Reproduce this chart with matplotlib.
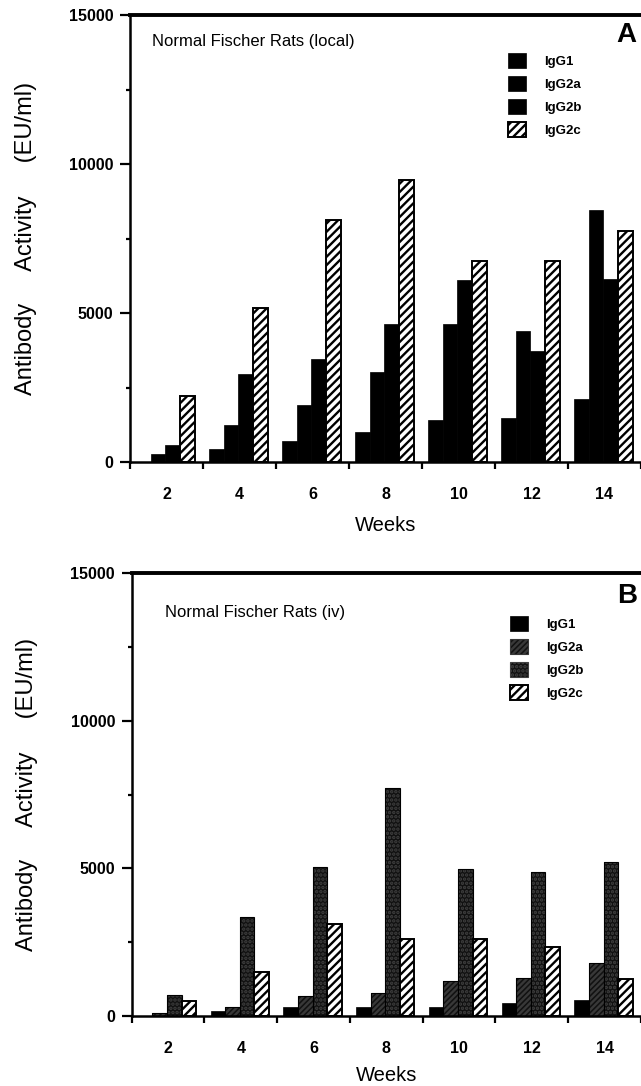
import numpy as np
import matplotlib
matplotlib.use("Agg")
import matplotlib.pyplot as plt
from matplotlib.patches import Patch

plt.rcParams['font.family'] = ['Liberation Sans', 'DejaVu Sans']
plt.rcParams['hatch.linewidth'] = 1.7

# ---------------- data ----------------
weeks = [2, 4, 6, 8, 10, 12, 14]
week_labels = ['2', '4', '6', '8', '10', '12', '14']
series = ['IgG1', 'IgG2a', 'IgG2b', 'IgG2c']

# Panel A: Normal Fischer Rats (local)
a_igg1 = [0, 445, 690, 1000, 1420, 1480, 2110]
a_igg2a = [255, 1255, 1910, 3030, 4630, 4380, 8440]
a_igg2b = [560, 2940, 3450, 4630, 6110, 3740, 6140]
a_igg2c = [2210, 5170, 8110, 9470, 6740, 6740, 7740]

# Panel B: Normal Fischer Rats (iv)
b_igg1 = [0, 180, 316, 316, 316, 430, 540]
b_igg2a = [113, 316, 680, 790, 1200, 1275, 1800]
b_igg2b = [710, 3365, 5060, 7710, 4980, 4870, 5200]
b_igg2c = [520, 1500, 3120, 2600, 2600, 2350, 1240]

title_a = 'Normal Fischer Rats (local)'
title_b = 'Normal Fischer Rats (iv)'
ylabel = 'Antibody     Activity     (EU/ml)'
xlabel = 'Weeks'

# ---------------- styles ----------------
offsets = [-0.63, -0.23, 0.17, 0.57]
bar_w = 0.4

solid = dict(facecolor='black', edgecolor='black', linewidth=0.5)
hatched = dict(facecolor='white', edgecolor='black', hatch='////', linewidth=1.4)
dark_hatch = dict(facecolor='#111111', edgecolor='#383838', hatch='//////', linewidth=0)
dark_dots = dict(facecolor='#111111', edgecolor='#404040', hatch='....', linewidth=0)

styles_a = [solid, solid, solid, hatched]
styles_b = [solid, dark_hatch, dark_dots, hatched]

fig = plt.figure(figsize=(6.41, 10.86), dpi=100)
W, H = 641.0, 1086.0


def panel(rect, data, styles, title, title_pos, letter, letter_pos, leg_pos,
          xlabelpad):
    ax = fig.add_axes(rect)
    x = np.array(weeks, dtype=float)
    for vals, st, off in zip(data, styles, offsets):
        ax.bar(x + off, vals, width=bar_w, **st)
        if st.get('linewidth', 1) == 0:
            ax.bar(x + off, vals, width=bar_w, facecolor='none',
                   edgecolor='black', linewidth=0.8)
    ax.set_xlim(1, 15)
    ax.set_ylim(0, 15000)
    ax.set_yticks([0, 5000, 10000, 15000])
    ax.set_yticklabels(['0', '5000', '10000', '15000'])
    ax.set_yticks([2500, 7500, 12500], minor=True)
    ax.set_xticks(weeks)
    ax.set_xticklabels(week_labels)
    ax.set_xticks([1, 3, 5, 7, 9, 11, 13, 15], minor=True)
    ax.tick_params(axis='y', which='major', direction='out', length=7, width=1.6,
                   labelsize=11.5, pad=5)
    ax.tick_params(axis='y', which='minor', direction='out', length=3, width=1.6)
    ax.tick_params(axis='x', which='major', length=0, labelsize=11.5, pad=18)
    ax.tick_params(axis='x', which='minor', direction='out', length=5, width=1.6)
    for lab in ax.get_yticklabels() + ax.get_xticklabels():
        lab.set_fontweight('bold')
    ax.spines['right'].set_visible(False)
    ax.spines['top'].set_linewidth(2.8)
    ax.spines['left'].set_linewidth(1.8)
    ax.spines['bottom'].set_linewidth(1.8)
    ax.set_xlabel(xlabel, fontsize=14.5, labelpad=xlabelpad)
    ax.set_ylabel(ylabel, fontsize=17, labelpad=23)
    ax.text(title_pos[0], title_pos[1], title, transform=ax.transAxes,
            fontsize=12, ha='left', va='center')
    fig.text(letter_pos[0] / W, 1 - letter_pos[1] / H, letter, fontsize=20,
             fontweight='bold', ha='center', va='center')
    handles = []
    for name, st in zip(series, styles):
        kw = dict(st)
        if kw.get('linewidth', 1) == 0:
            kw['linewidth'] = 0.8
        handles.append(Patch(label=name, **kw))
    ax.legend(handles=handles, loc='upper left',
              bbox_to_anchor=(leg_pos[0] / W, 1 - leg_pos[1] / H),
              bbox_transform=fig.transFigure, frameon=False,
              borderpad=0, borderaxespad=0, handlelength=1.4,
              handleheight=1.35, handletextpad=1.35, labelspacing=0.62,
              prop=dict(size=9.5, weight='bold'))
    return ax


rect_a = [130 / W, 1 - 462 / H, (W - 130) / W, (462 - 15) / H]
rect_b = [131.7 / W, 1 - 1016 / H, (W - 131.7) / W, (1016 - 573) / H]

ax_a = panel(rect_a, [a_igg1, a_igg2a, a_igg2b, a_igg2c], styles_a,
             title_a, (0.043, 0.94), 'A', (626, 35), (508, 53), 10)
ax_b = panel(rect_b, [b_igg1, b_igg2a, b_igg2b, b_igg2c], styles_b,
             title_b, (0.065, 0.91), 'B', (627, 596), (510, 616), 7)

fig.savefig('out.png', dpi=100)
